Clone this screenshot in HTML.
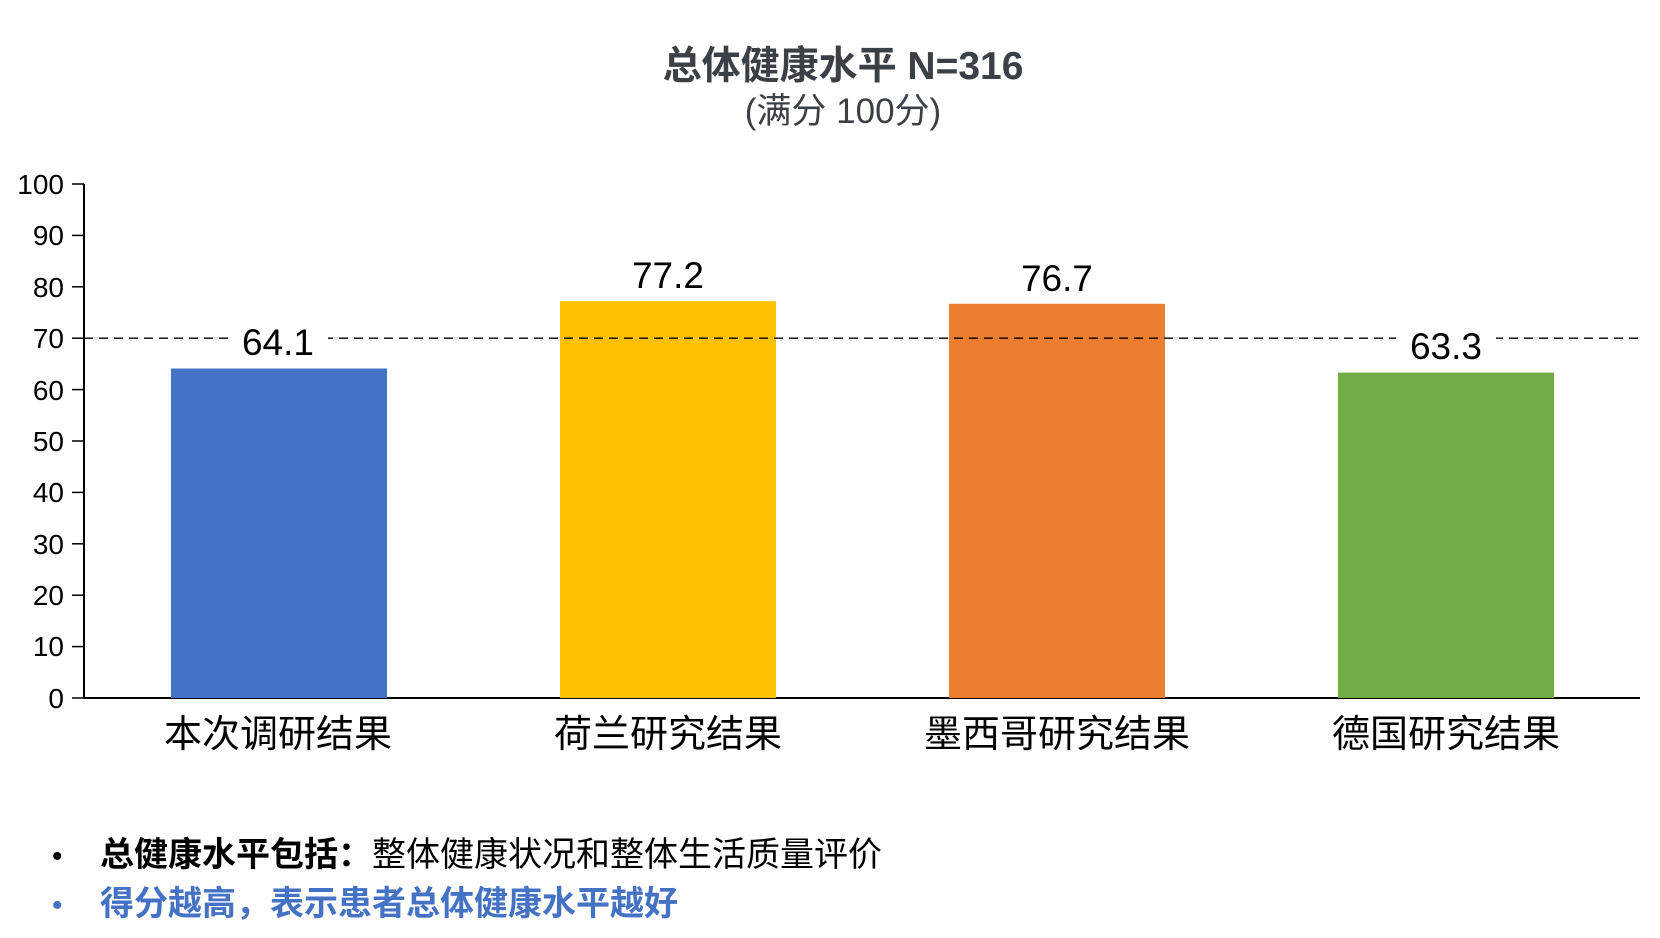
<!DOCTYPE html>
<html><head><meta charset="utf-8"><style>
html,body{margin:0;padding:0;background:#fff;}
svg{display:block;}
text{font-family:"Liberation Sans","Noto Sans CJK SC",sans-serif;}
</style></head><body>
<svg width="1660" height="938" viewBox="0 0 1660 938" xmlns="http://www.w3.org/2000/svg">
<text x="843" y="79" text-anchor="middle" font-size="39" font-weight="bold" fill="#3b3f46">总体健康水平 N=316</text>
<text x="843" y="123" text-anchor="middle" font-size="35" fill="#3b3f46">(满分 100分)</text>
<g stroke="#000" stroke-width="2">
<line x1="84" y1="184" x2="84" y2="698"/>
<line x1="84" y1="698" x2="1640" y2="698"/>
</g>
<g stroke="#000" stroke-width="1.5">
<line x1="72" y1="184" x2="84" y2="184"/><line x1="72" y1="235.4" x2="84" y2="235.4"/>
<line x1="72" y1="286.8" x2="84" y2="286.8"/><line x1="72" y1="338.2" x2="84" y2="338.2"/>
<line x1="72" y1="389.6" x2="84" y2="389.6"/><line x1="72" y1="441" x2="84" y2="441"/>
<line x1="72" y1="492.4" x2="84" y2="492.4"/><line x1="72" y1="543.8" x2="84" y2="543.8"/>
<line x1="72" y1="595.2" x2="84" y2="595.2"/><line x1="72" y1="646.6" x2="84" y2="646.6"/>
<line x1="72" y1="698" x2="84" y2="698"/>
</g>
<g font-size="28" text-anchor="end" fill="#000">
<text x="64" y="194">100</text><text x="64" y="245">90</text><text x="64" y="297">80</text>
<text x="64" y="348">70</text><text x="64" y="400">60</text><text x="64" y="451">50</text>
<text x="64" y="502">40</text><text x="64" y="554">30</text><text x="64" y="605">20</text>
<text x="64" y="656">10</text><text x="64" y="708">0</text>
</g>
<rect x="171" y="368.5" width="216" height="329.5" fill="#4472c4"/>
<rect x="560" y="301.2" width="216" height="396.8" fill="#ffc000"/>
<rect x="949" y="303.8" width="216" height="394.2" fill="#ed7d31"/>
<rect x="1338" y="372.6" width="216" height="325.4" fill="#70ad47"/>
<line x1="84" y1="338.2" x2="1640" y2="338.2" stroke="#000" stroke-width="1.3" stroke-dasharray="9,6"/>
<g font-size="37" text-anchor="middle" fill="#000">
<rect x="228" y="322" width="100" height="36" fill="#fff"/>
<text x="278" y="355">64.1</text>
<text x="668" y="288">77.2</text>
<text x="1057" y="291">76.7</text>
<rect x="1396" y="326" width="100" height="36" fill="#fff"/>
<text x="1446" y="359">63.3</text>
</g>
<g font-size="38" text-anchor="middle" fill="#000">
<text x="278" y="747">本次调研结果</text>
<text x="668" y="747">荷兰研究结果</text>
<text x="1057" y="747">墨西哥研究结果</text>
<text x="1446" y="747">德国研究结果</text>
</g>
<text x="52" y="866" font-size="30" fill="#000">•</text>
<text x="100" y="866" font-size="34" fill="#000"><tspan font-weight="bold">总健康水平包括：</tspan>整体健康状况和整体生活质量评价</text>
<text x="52" y="915" font-size="30" fill="#4472c4">•</text>
<text x="100" y="915" font-size="34" font-weight="bold" fill="#4472c4">得分越高，表示患者总体健康水平越好</text>
</svg>
</body></html>
